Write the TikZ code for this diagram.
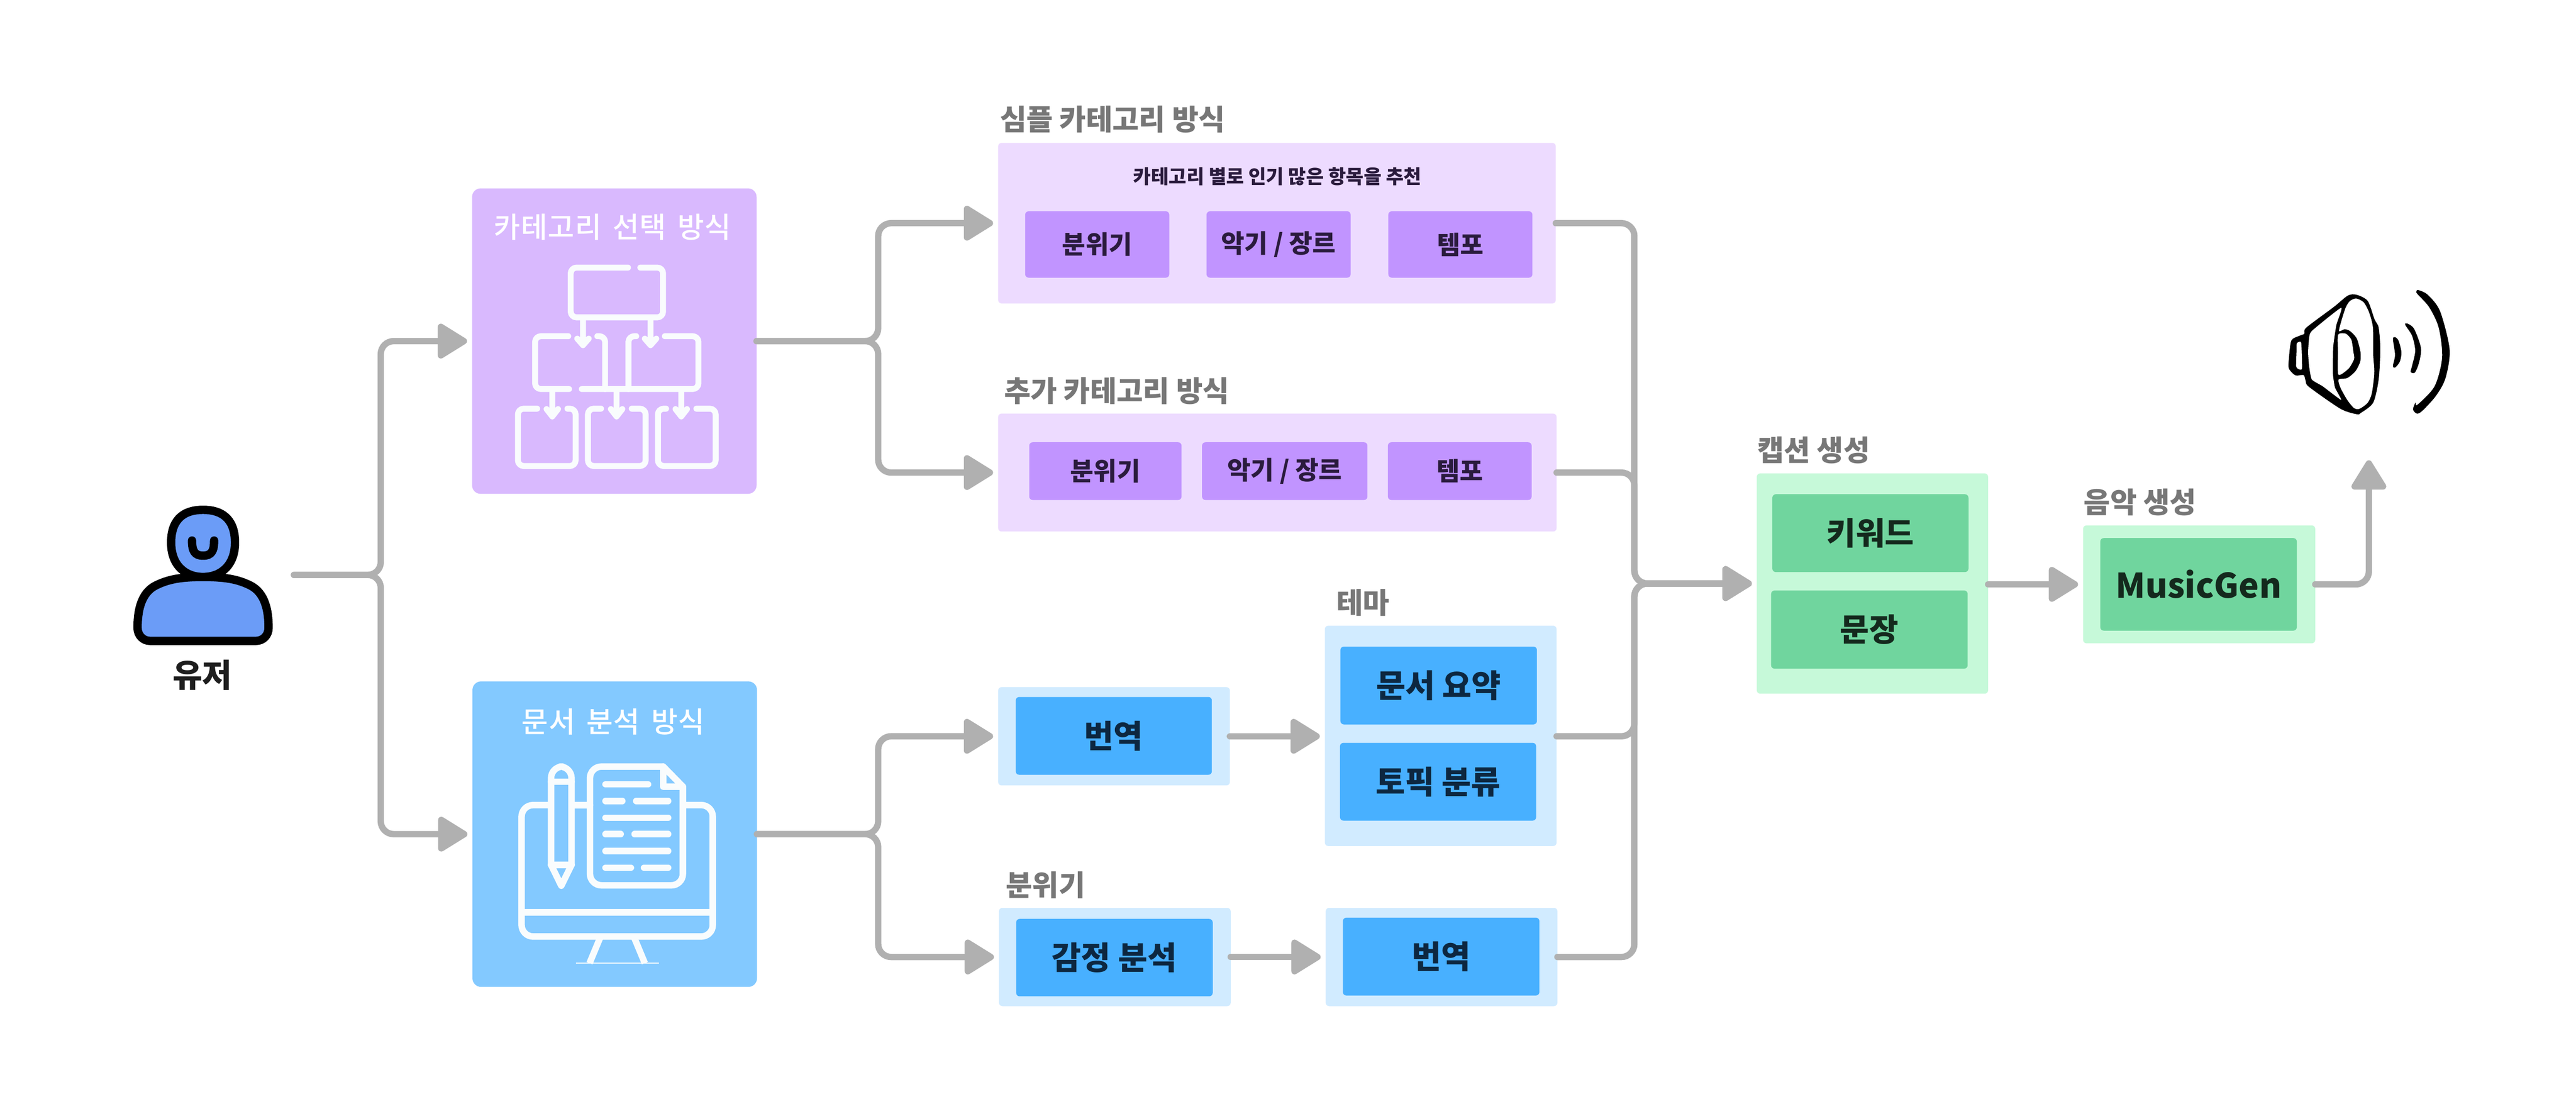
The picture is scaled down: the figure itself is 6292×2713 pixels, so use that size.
\documentclass[tikz,border=0pt]{standalone}
\usepackage{fontspec}
\setmainfont{Noto Sans CJK KR}
\newfontfamily\krt[WordSpace=1.6,LetterSpace=2]{Noto Sans CJK KR Medium}
\usetikzlibrary{arrows.meta}
\definecolor{catbox}{HTML}{D9B9FE}
\definecolor{docbox}{HTML}{83C9FF}
\definecolor{lpurple}{HTML}{EDDBFF}
\definecolor{ipurple}{HTML}{C194FF}
\definecolor{lblue}{HTML}{D1EBFF}
\definecolor{iblue}{HTML}{48B0FF}
\definecolor{lgreen}{HTML}{C6F9D9}
\definecolor{igreen}{HTML}{70D59E}
\definecolor{conn}{HTML}{B0B0B0}
\definecolor{lab}{HTML}{777777}
\definecolor{tpurple}{HTML}{2A1B3D}
\definecolor{tblue}{HTML}{0D2740}
\definecolor{tgreen}{HTML}{14291D}
\definecolor{iconw}{HTML}{F9FCFD}
\definecolor{person}{HTML}{6B9CF7}
\definecolor{tuser}{HTML}{1E1E1E}
\newcommand\pbox[7]{%
  \pgfmathsetmacro\pbcx{(#3+#5)/2}\pgfmathsetmacro\pbcy{(#4+#6)/2}%
  \node[#2,minimum width={(#5-#3)*0.1mm},minimum height={(#6-#4)*0.1mm}] (#1) at (\pbcx,\pbcy) {#7};}
\tikzset{
  base/.style={inner sep=0pt,outer sep=0pt,rectangle,rounded corners=2.4pt},
  big/.style={base,rounded corners=6pt},
  outerP/.style={base,fill=lpurple},
  outerB/.style={base,fill=lblue},
  outerG/.style={base,fill=lgreen},
  innerP/.style={base,fill=ipurple,text=tpurple,font=\bfseries\fontsize{17.6}{20}\selectfont},
  innerB/.style={base,fill=iblue,text=tblue,font=\bfseries\fontsize{22.2}{24}\selectfont},
  innerG/.style={base,fill=igreen,text=tgreen,font=\bfseries\fontsize{22}{24}\selectfont},
  grouplabel/.style={inner sep=0pt,text=lab,font=\bfseries\fontsize{20}{22}\selectfont},
  whitetitle/.style={inner sep=0pt,text=white,font=\krt\fontsize{20}{22}\selectfont},
  link/.style={draw=conn,line width=4.4pt,line cap=round,rounded corners=9pt,
    -{Triangle[round,length=22.5pt,width=26.5pt]},shorten >=3.5pt},
  icon/.style={draw=iconw,line width=4.1pt,line cap=round,line join=round,rounded corners=4pt},
  pstroke/.style={draw=black,line width=5.8pt,line join=round,line cap=round},
}
\begin{document}
\begin{tikzpicture}[x=0.1mm,y=-0.1mm]
\useasboundingbox (0,0) rectangle (6292,2713);
\fill[white] (0,0) rectangle (6292,2713);
% boxes
\pbox{cat}{big,fill=catbox}{1153}{460}{1848}{1206}{}
\pbox{doc}{big,fill=docbox}{1154}{1664}{1849}{2410}{}
\node[whitetitle] (cattitle) at (1496,554) {카테고리 선택 방식};
\node[whitetitle] (doctitle) at (1498,1762) {문서 분석 방식};
\pbox{simple}{outerP}{2438}{349}{3800}{741}{}
\pbox{s1}{innerP}{2504}{516}{2856}{678}{분위기}
\pbox{s2}{innerP}{2947}{516}{3299}{678}{악기 / 장르}
\pbox{s3}{innerP}{3391}{516}{3743}{678}{템포}
\node[inner sep=0pt,text=tpurple,font=\bfseries\fontsize{13.4}{15}\selectfont] (stext) at (3120,431) {카테고리 별로 인기 많은 항목을 추천};
\node[grouplabel,anchor=west] (slabel) at (2442,291) {심플 카테고리 방식};
\pbox{extra}{outerP}{2438}{1010}{3802}{1298}{}
\pbox{e1}{innerP}{2514}{1080}{2886}{1221}{분위기}
\pbox{e2}{innerP}{2936}{1080}{3340}{1221}{악기 / 장르}
\pbox{e3}{innerP}{3390}{1080}{3741}{1221}{템포}
\node[grouplabel,anchor=west] (elabel) at (2452,955) {추가 카테고리 방식};
\pbox{tro}{outerB}{2438}{1678}{3004}{1918}{}
\pbox{tr}{innerB}{2481}{1702}{2960}{1892}{번역}
\pbox{theme}{outerB}{3236}{1528}{3802}{2066}{}
\pbox{t1}{innerB}{3274}{1579}{3754}{1769}{문서 요약}
\pbox{t2}{innerB}{3273}{1814}{3752}{2004}{토픽 분류}
\node[grouplabel,anchor=west] (tlabel) at (3264,1472) {테마};
\pbox{emo}{outerB}{2440}{2217}{3006}{2457}{}
\pbox{em}{innerB}{2482}{2244}{2962}{2433}{감정 분석}
\node[grouplabel,anchor=west] (mlabel) at (2456,2161) {분위기};
\pbox{tr2o}{outerB}{3238}{2217}{3804}{2457}{}
\pbox{tr2}{innerB}{3280}{2241}{3760}{2431}{번역}
\pbox{cap}{outerG}{4291}{1156}{4856}{1694}{}
\pbox{c1}{innerG}{4329}{1207}{4808}{1397}{키워드}
\pbox{c2}{innerG}{4326}{1442}{4806}{1633}{문장}
\node[grouplabel,anchor=west] (clabel) at (4292,1099) {캡션 생성};
\pbox{mus}{outerG}{5088}{1283}{5655}{1571}{}
\pbox{m1}{innerG,font=\bfseries\fontsize{23.6}{25}\selectfont}{5130}{1314}{5610}{1540}{MusicGen}
\node[grouplabel,anchor=west] (mulabel) at (5089,1226) {음악 생성};
% person
\filldraw[pstroke,fill=person] (496,1409) .. controls (440,1409) and (410,1415) .. (380,1430) .. controls (345,1448) and (336,1490) .. (336,1533) .. controls (336,1552) and (350,1565) .. (366,1565) -- (626,1565) .. controls (642,1565) and (656,1552) .. (656,1533) .. controls (656,1490) and (647,1448) .. (612,1430) .. controls (582,1415) and (552,1409) .. (496,1409) -- cycle;
\filldraw[pstroke,fill=person] (496,1245) .. controls (550,1245) and (574,1275) .. (574,1325) .. controls (574,1380) and (540,1409) .. (496,1409) .. controls (452,1409) and (418,1380) .. (418,1325) .. controls (418,1275) and (442,1245) .. (496,1245) -- cycle;
\draw[pstroke] (469,1320) .. controls (469,1345) and (475,1357) .. (496,1357) .. controls (517,1357) and (523,1345) .. (523,1320);
\node[inner sep=0pt,text=tuser,font=\bfseries\fontsize{22.4}{24}\selectfont] (user) at (494,1648) {유저};
% connectors
\coordinate (userout) at (718,1404);
\coordinate (busA) at (930,1404);
\coordinate (busB) at (2145,833);
\coordinate (busC) at (2145,2037);
\coordinate (busD) at (3992,1425);
\coordinate (out) at (5786,1124);
\draw[link] (userout) -- (busA) |- (cat.west);
\draw[link] (userout) -- (busA) |- (doc.west);
\draw[link] (cat.east) -- (busB) |- (simple.west);
\draw[link] (cat.east) -- (busB) |- (extra.west);
\draw[link] (doc.east) -- (busC) |- (tro.west);
\draw[link] (doc.east) -- (busC) |- (emo.west);
\draw[link] (tro.east) -- (theme.west |- tro.east);
\draw[link] (emo.east) -- (tr2o.west);
\draw[link] (simple.east) -| (busD) -- (cap.west);
\draw[link] (extra.east) -| (busD) -- (cap.west);
\draw[link] (theme.east |- tro.east) -| (busD) -- (cap.west);
\draw[link] (tr2o.east) -| (busD) -- (cap.west);
\draw[link] (cap.east |- mus.west) -- (mus.west);
\draw[link,shorten >=0pt] (mus.east) -| (out);
% category icon
\begin{scope}[icon]
\draw[icon] (1534,653.5) -- (1394,653.5) -- (1394,775) -- (1619.5,775) -- (1619.5,653.5) -- (1564,653.5);
\draw[icon] (1388,821) -- (1307,821) -- (1307,950) -- (1390,950);
\draw[icon] (1459,821) -- (1478,821) -- (1478,950);
\draw[icon] (1554,821) -- (1535,821) -- (1535,950);
\draw[icon] (1624,821) -- (1706,821) -- (1706,950) -- (1421,950);
\draw[icon,rounded corners=0pt] (1424,775) -- (1424,843) (1410,827) -- (1424,843) -- (1438,827);
\draw[icon,rounded corners=0pt] (1589,775) -- (1589,843) (1575,827) -- (1589,843) -- (1603,827);
\draw[icon,rounded corners=0pt] (1349,950) -- (1349,1017) (1335,999) -- (1349,1017) -- (1363,999);
\draw[icon,rounded corners=0pt] (1506,950) -- (1506,1017) (1492,999) -- (1506,1017) -- (1520,999);
\draw[icon,rounded corners=0pt] (1664,950) -- (1664,1017) (1650,999) -- (1664,1017) -- (1678,999);
\draw[icon] (1312,998) -- (1265,998) -- (1265,1138) -- (1406,1138) -- (1406,998) -- (1386,998);
\draw[icon] (1468,998) -- (1436,998) -- (1436,1138) -- (1577,1138) -- (1577,998) -- (1543,998);
\draw[icon] (1627,998) -- (1607,998) -- (1607,1138) -- (1748,1138) -- (1748,998) -- (1701,998);
\end{scope}
% document icon
\begin{scope}
\tikzset{docline/.style={icon,line width=4.5pt,rounded corners=0pt}}
\draw[docline,rounded corners=8pt] (1346,1966) -- (1274,1966) -- (1274,2287) -- (1741,2287) -- (1741,1966) -- (1668,1966);
\draw[docline] (1396,1966) -- (1441,1966);
\draw[docline] (1274,2228) -- (1741,2228);
\draw[docline,line cap=butt] (1467,2287) -- (1440,2352);
\draw[docline,line cap=butt] (1548,2287) -- (1575,2352);
\draw[iconw,line width=0.6pt] (1407,2352) -- (1609,2352);
\draw[docline,rounded corners=8pt] (1346,2112) -- (1346,1872) -- (1396,1872) -- (1396,2112);
\draw[docline] (1346,1909) -- (1396,1909);
\draw[docline] (1346,2112) -- (1396,2112);
\draw[docline] (1346,2112) -- (1371,2163) -- (1396,2112);
\draw[docline,rounded corners=8pt] (1620,1872) -- (1441,1872) -- (1441,2162) -- (1668,2162) -- (1668,1921);
\draw[docline] (1620,1872) -- (1668,1921) -- (1620,1921) -- cycle;
\draw[docline] (1479,1915.5) -- (1583,1915.5);
\draw[docline] (1479,1956) -- (1520,1956) (1554,1956) -- (1632,1956);
\draw[docline] (1479,1997) -- (1632,1997);
\draw[docline] (1479,2037) -- (1516,2037) (1550,2037) -- (1632,2037);
\draw[docline] (1479,2078) -- (1632,2078);
\draw[docline] (1479,2119) -- (1541,2119) (1573,2119) -- (1632,2119);
\end{scope}
% speaker
\begin{scope}[shift={(5500,660)},x=0.03333mm,y=-0.03333mm]
\fill[black] plot[smooth cycle,tension=.45] coordinates {(290,515) (350,480) (385,465) (400,420) (600,270) (705,185) (770,180) (850,225) (900,360) (930,420) (942,580) (930,800) (890,970) (800,1045) (770,1055) (650,1015) (420,855) (395,810) (380,768) (320,770) (272,720) (272,650)};
\fill[white] plot[smooth cycle,tension=.3] coordinates {(330,535) (362,530) (368,722) (335,720) (325,700) (328,600)};
\fill[white] plot[smooth cycle,tension=.3] coordinates {(440,445) (655,275) (620,400) (597,560) (595,760) (610,860) (655,950) (520,850) (440,800) (420,700) (413,600) (420,500)};
\fill[white] plot[smooth cycle,tension=.45] coordinates {(640,445) (660,360) (690,270) (720,225) (765,207) (820,235) (860,310) (888,420) (890,620) (898,750) (880,900) (850,970) (790,1015) (750,1010) (700,950) (650,860) (637,800) (700,790) (760,740) (795,670) (797,600) (770,500) (720,445) (680,432)};
\fill[white] plot[smooth cycle,tension=.4] coordinates {(633,472) (690,465) (730,510) (745,600) (750,650) (710,720) (635,765) (632,600)};
\fill[black] plot[smooth cycle,tension=.5] coordinates {(1035,505) (1050,490) (1075,515) (1097,600) (1085,670) (1050,713) (1035,700) (1050,620)};
\fill[black] plot[smooth cycle,tension=.5] coordinates {(1125,400) (1140,390) (1190,430) (1240,570) (1225,680) (1195,750) (1165,745) (1175,700) (1198,590) (1175,480)};
\fill[black] plot[smooth cycle,tension=.5] coordinates {(1207,155) (1220,145) (1290,180) (1380,300) (1450,580) (1420,790) (1350,920) (1250,1030) (1210,1050) (1182,1020) (1200,970) (1215,985) (1340,850) (1395,640) (1370,420) (1300,270) (1215,175)};
\end{scope}
\end{tikzpicture}
\end{document}
